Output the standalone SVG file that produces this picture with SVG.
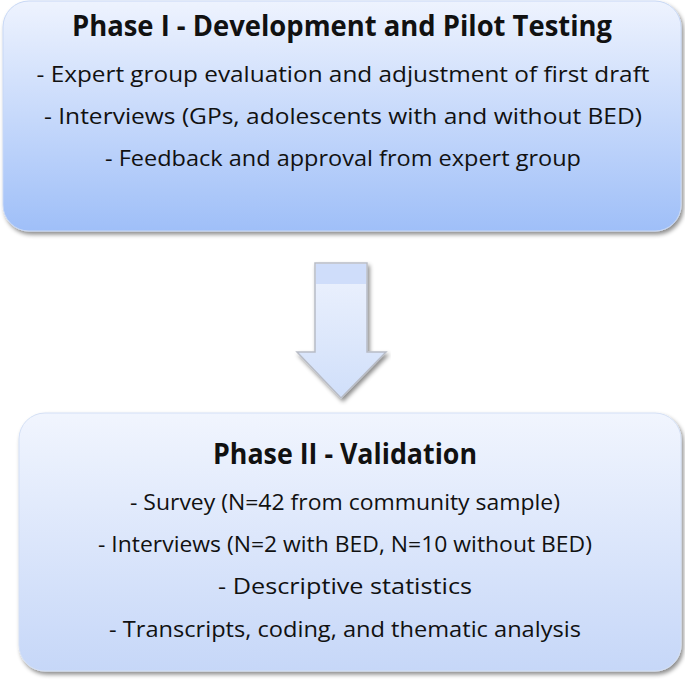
<svg xmlns="http://www.w3.org/2000/svg" width="685" height="680" viewBox="0 0 685 680">
<defs>
<linearGradient id="g1" x1="0" y1="0" x2="0" y2="1"><stop offset="0" stop-color="#eef3fe"/><stop offset="1" stop-color="#9fbff8"/></linearGradient>
<linearGradient id="g2" x1="0" y1="0" x2="0" y2="1"><stop offset="0" stop-color="#f1f5fe"/><stop offset="1" stop-color="#c6d7f8"/></linearGradient>
<linearGradient id="ga" x1="0" y1="0" x2="0" y2="1"><stop offset="0" stop-color="#edf2fd"/><stop offset="1" stop-color="#d0dffa"/></linearGradient>
<filter id="sh" x="-5%" y="-5%" width="110%" height="115%"><feDropShadow dx="2" dy="3" stdDeviation="2" flood-color="#000" flood-opacity="0.45"/></filter>
</defs>
<style>
text{font-family:"Open Sans","Liberation Sans",sans-serif;fill:#111;text-anchor:middle}
.t{font-size:28px;font-weight:bold}
.l{font-size:21px}
</style>
<g id="phase1">
<rect x="3" y="1" width="678" height="230" rx="26" fill="url(#g1)" stroke="#c8d8f5" filter="url(#sh)"/>
<text class="t" x="342" y="36" textLength="540" lengthAdjust="spacingAndGlyphs">Phase I - Development and Pilot Testing</text>
<text class="l" x="343" y="82" textLength="613" lengthAdjust="spacingAndGlyphs">- Expert group evaluation and adjustment of first draft</text>
<text class="l" x="343" y="124" textLength="598" lengthAdjust="spacingAndGlyphs">- Interviews (GPs, adolescents with and without BED)</text>
<text class="l" x="343" y="166" textLength="476" lengthAdjust="spacingAndGlyphs">- Feedback and approval from expert group</text>
</g>
<g id="connectors">
<path d="M315,263 H367 V352 H386 L341,398 L297,352 H315 Z" fill="url(#ga)" stroke="#b8bcc6" stroke-width="1.5" filter="url(#sh)"/>
<rect x="316" y="264" width="50" height="20" fill="#cfddfa"/>
</g>
<g id="phase2">
<rect x="19" y="413" width="662" height="258" rx="26" fill="url(#g2)" stroke="#d4e0f5" filter="url(#sh)"/>
<text class="t" x="345" y="464" textLength="264" lengthAdjust="spacingAndGlyphs">Phase II - Validation</text>
<text class="l" x="345" y="510" textLength="430" lengthAdjust="spacingAndGlyphs">- Survey (N=42 from community sample)</text>
<text class="l" x="345" y="552" textLength="494" lengthAdjust="spacingAndGlyphs">- Interviews (N=2 with BED, N=10 without BED)</text>
<text class="l" x="345" y="594" textLength="254" lengthAdjust="spacingAndGlyphs">- Descriptive statistics</text>
<text class="l" x="345" y="637" textLength="472" lengthAdjust="spacingAndGlyphs">- Transcripts, coding, and thematic analysis</text>
</g>
</svg>
